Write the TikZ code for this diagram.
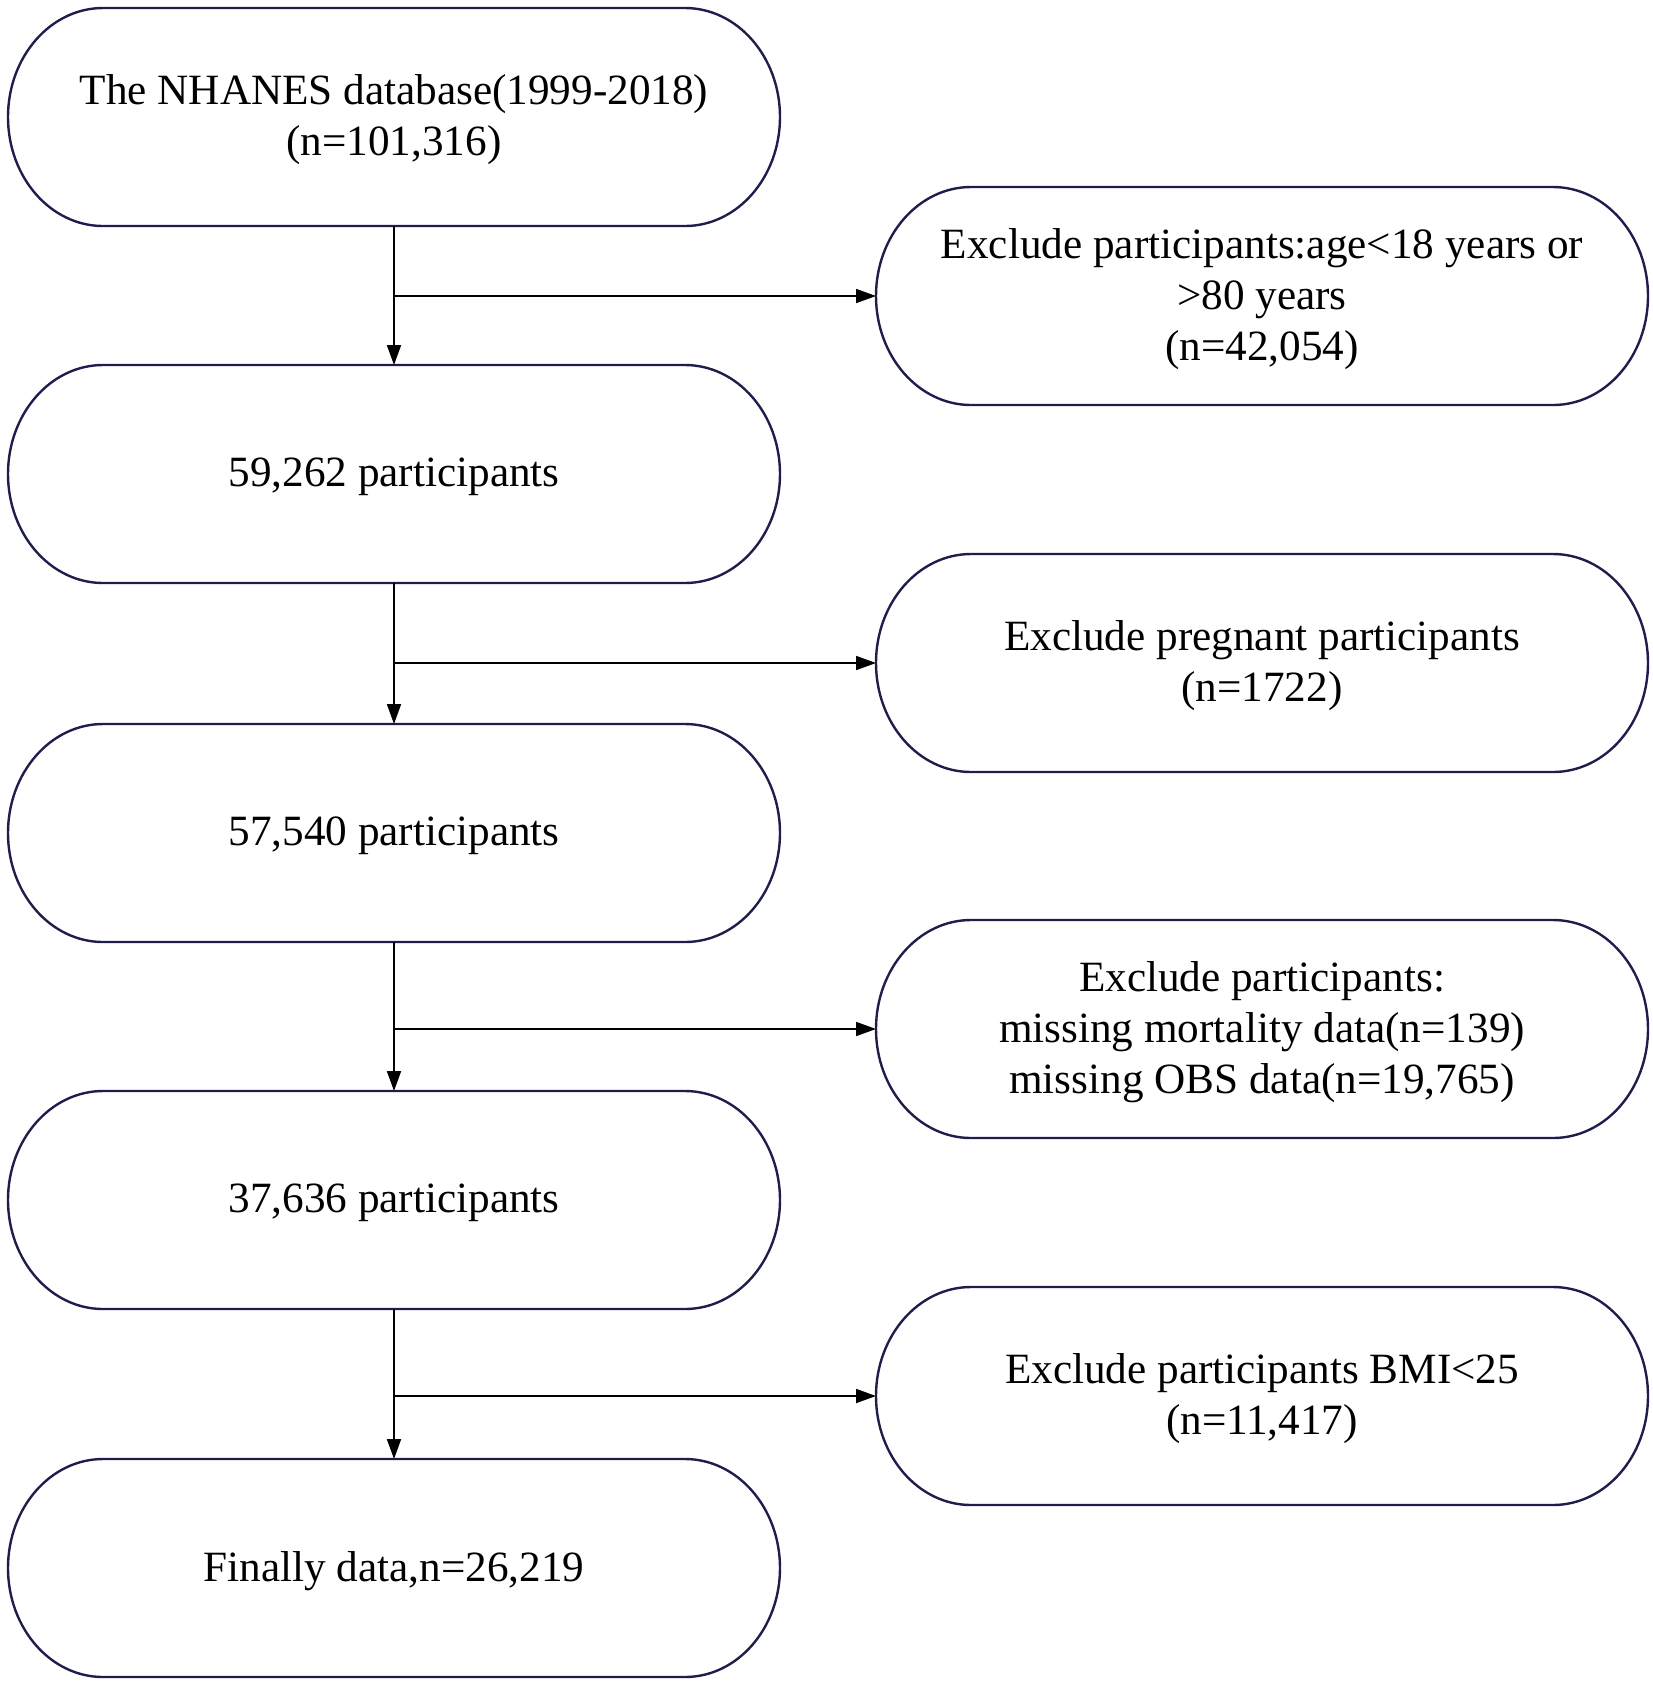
\documentclass[tikz,border=0pt]{standalone}
\usepackage{fontspec}
\setmainfont{Liberation Serif}
\usetikzlibrary{arrows.meta}
\definecolor{pillcol}{HTML}{1E1E4C}
\tikzset{
  box/.style={draw=none, minimum width=386pt, minimum height=109pt, inner sep=0pt, outer sep=0pt, align=center,
    font=\fontsize{21.6}{25.5}\selectfont},
  boxtext/.style={inner sep=0pt, align=center, font=\fontsize{21.6}{25.5}\selectfont},
  pillline/.style={draw=pillcol, line width=1.2pt},
  conn/.style={draw=black, line width=0.9pt},
  arr/.style={conn, -{Triangle[length=10pt,width=7pt]}}
}
\newcommand{\drawpill}[1]{%
  \draw[pillline] ([xshift=47.5pt]#1.north west) -- ([xshift=-47.5pt]#1.north east)
    arc[start angle=90,end angle=-90,x radius=47.5pt,y radius=54.5pt]
    -- ([xshift=47.5pt]#1.south west)
    arc[start angle=270,end angle=90,x radius=47.5pt,y radius=54.5pt] -- cycle;}
\begin{document}
\begin{tikzpicture}[x=0.5pt,y=-0.5pt]
\useasboundingbox (0,0) rectangle (1653,1683);
\node[box] (a) at (394,117) {};
\node[box] (b) at (394,474) {};
\node[box] (c) at (394,833) {};
\node[box] (d) at (394,1200) {};
\node[box] (e) at (394,1568) {};
\node[box] (ra) at (1262,296) {};
\node[box] (rb) at (1262,663) {};
\node[box] (rc) at (1262,1029) {};
\node[box] (rd) at (1262,1396) {};
\node[boxtext] (ta) at ([yshift=-1.5pt]a.center) {The NHANES database(1999-2018)\\(n=101,316)};
\node[boxtext] (tb) at ([yshift=-1.5pt]b.center) {59,262 participants};
\node[boxtext] (tc) at ([yshift=-1.5pt]c.center) {57,540 participants};
\node[boxtext] (td) at ([yshift=-1.5pt]d.center) {37,636 participants};
\node[boxtext] (te) at ([yshift=-1.5pt]e.center) {Finally data,n=26,219};
\node[boxtext] (tra) at ([yshift=-1.5pt]ra.center) {Exclude participants:age<18 years or\\>80 years\\(n=42,054)};
\node[boxtext] (trb) at ([yshift=-1.5pt]rb.center) {Exclude pregnant participants\\(n=1722)};
\node[boxtext] (trc) at ([yshift=-1.5pt]rc.center) {Exclude participants:\\missing mortality data(n=139)\\missing OBS data(n=19,765)};
\node[boxtext] (trd) at ([yshift=-1.5pt]rd.center) {Exclude participants BMI<25\\(n=11,417)};
\foreach \n in {a,b,c,d,e,ra,rb,rc,rd} {\drawpill{\n}}
\draw[arr] (a.south) -- (b.north);
\draw[arr] (b.south) -- (c.north);
\draw[arr] (c.south) -- (d.north);
\draw[arr] (d.south) -- (e.north);
\draw[arr] (a.south |- ra.west) -- (ra.west);
\draw[arr] (b.south |- rb.west) -- (rb.west);
\draw[arr] (c.south |- rc.west) -- (rc.west);
\draw[arr] (d.south |- rd.west) -- (rd.west);
\end{tikzpicture}
\end{document}
